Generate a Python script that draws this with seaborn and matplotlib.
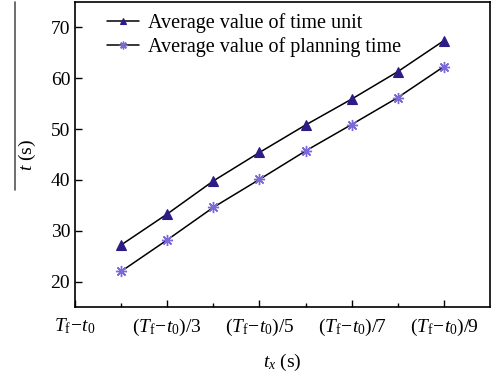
import matplotlib
matplotlib.use("Agg")
import matplotlib.pyplot as plt
from matplotlib.lines import Line2D
import seaborn as sns
import numpy as np

sns.set_theme(style="white")
plt.rcParams['font.family'] = ['Liberation Serif', 'DejaVu Serif']
plt.rcParams['mathtext.fontset'] = 'custom'
plt.rcParams['mathtext.rm'] = 'Liberation Serif'
plt.rcParams['mathtext.it'] = 'Liberation Serif:italic'

# data
x_pos = [2, 3, 4, 5, 6, 7, 8, 9]
time_unit = [27.2, 33.3, 39.8, 45.4, 50.8, 55.9, 61.3, 67.4]
planning_time = [22.0, 28.2, 34.6, 40.1, 45.7, 50.9, 56.2, 62.3]
tick_pos = [1, 3, 5, 7, 9]
tick_labels = [r"$T_\mathrm{f}\!-\!t_\mathrm{0}$",
               r"$(T_\mathrm{f}\!-\!t_\mathrm{0})/3$",
               r"$(T_\mathrm{f}\!-\!t_\mathrm{0})/5$",
               r"$(T_\mathrm{f}\!-\!t_\mathrm{0})/7$",
               r"$(T_\mathrm{f}\!-\!t_\mathrm{0})/9$"]
minor_pos = [2, 4, 6, 8]
series_names = ["Average value of time unit", "Average value of planning time"]

fig = plt.figure(figsize=(4.91, 3.82), dpi=100)
ax = fig.add_axes([75/491, 1 - 307/382, (490-75)/491, (307-2)/382])

sns.lineplot(x=x_pos, y=time_unit, ax=ax, color='black', lw=1.1,
             marker='^', markersize=7, markerfacecolor='#2c1d86',
             markeredgecolor='#2c1d86', markeredgewidth=0.8,
             label=series_names[0])
sns.lineplot(x=x_pos, y=planning_time, ax=ax, color='black', lw=1.1,
             marker=(8, 2, 0), markersize=8, markerfacecolor='#7a6ad8',
             markeredgecolor='#7a6ad8', markeredgewidth=1.0,
             label=series_names[1])

ax.set_xlim(1, 10)
ax.set_ylim(15, 75)
ax.set_xticks(tick_pos)
ax.set_xticklabels(tick_labels)
ax.set_xticks(minor_pos, minor=True)
ax.set_yticks([20, 30, 40, 50, 60, 70])
ax.tick_params(axis='both', which='major', direction='in', length=5, width=1,
               labelsize=14, color='black', labelcolor='black',
               bottom=True, left=True, top=False, right=False)
ax.tick_params(axis='x', which='minor', direction='in', length=3, width=1,
               bottom=True, color='black')
ax.tick_params(axis='x', which='major', pad=7)
for s in ax.spines.values():
    s.set_color('black')
    s.set_linewidth(1.2)

ax.set_xlabel(r"$t_x$ (s)", fontsize=14, color='black', labelpad=10)
ax.set_ylabel(r"$t$ (s)", fontsize=14, color='black', labelpad=9)
fig.add_artist(Line2D([15/491, 15/491], [1 - 2/382, 1 - 190/382],
                      color='#555555', lw=1.2))

leg = ax.legend(loc='upper left', frameon=False, fontsize=14.5,
                handlelength=1.6, handletextpad=0.45, labelspacing=0.2,
                borderaxespad=0.15, bbox_to_anchor=(0.05, 1.0),
                markerscale=0.7)
for t in leg.get_texts():
    t.set_color('black')

fig.savefig("out.png", dpi=100)
